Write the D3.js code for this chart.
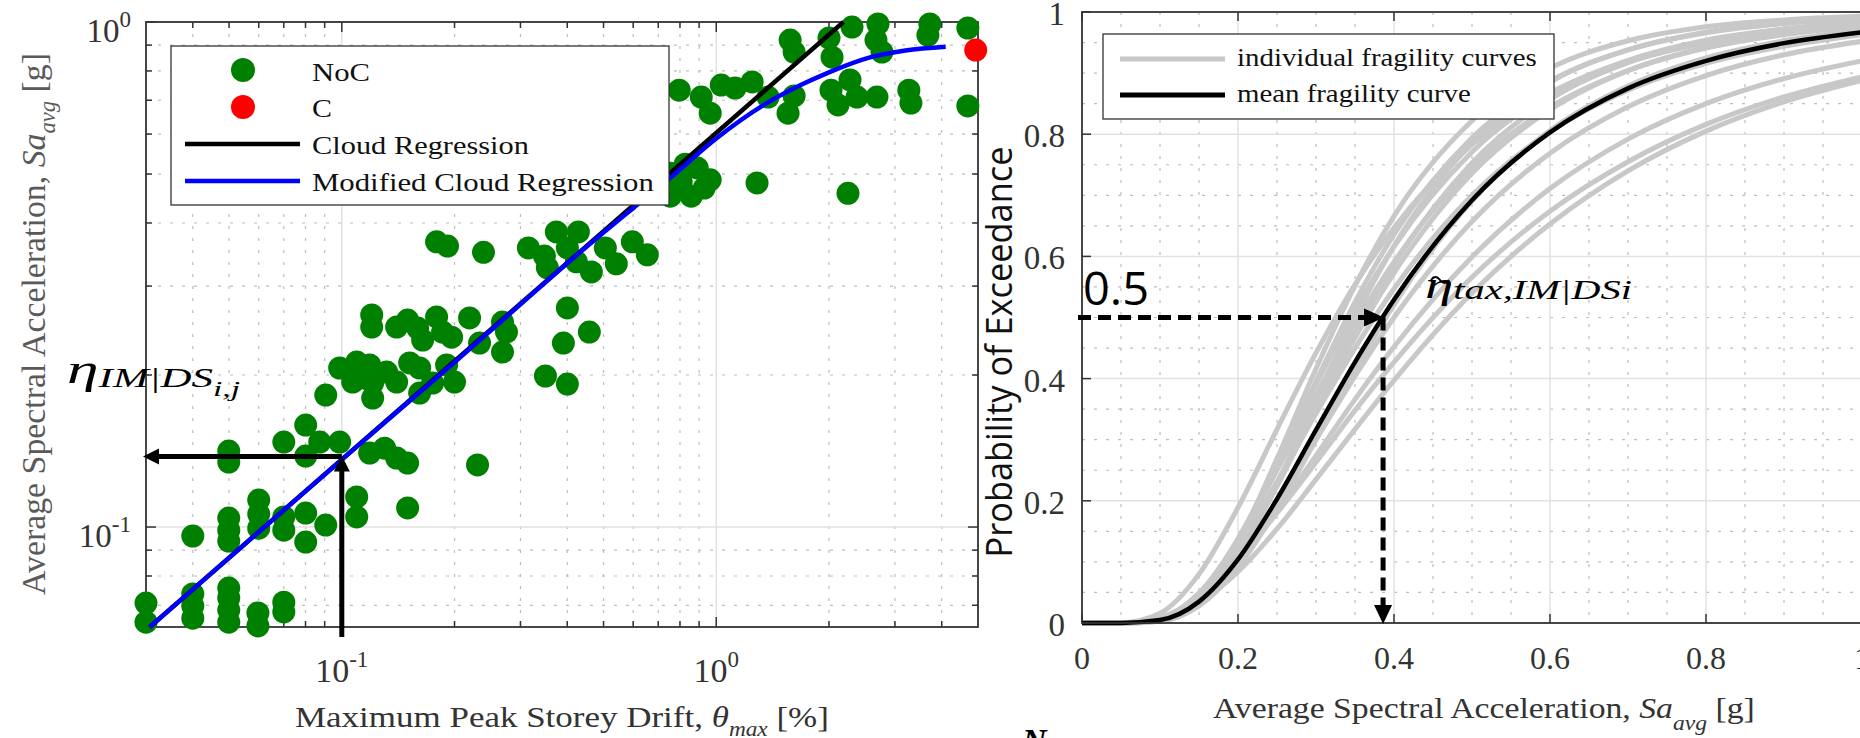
<!DOCTYPE html>
<html>
<head>
<meta charset="utf-8">
<script src="https://cdn.jsdelivr.net/npm/d3@7"></script>
<style>
  html, body { margin: 0; padding: 0; background: #fff; }
  svg { display: block; }
</style>
</head>
<body>
<svg id="fig" width="1860" height="738"></svg>
<script>
// ---------- Left panel: cloud analysis (drift vs. Sa_avg) ----------
// Non-collapse records: peak storey drift [%] and Sa_avg [g]
const noCDrift = [
  0.0300,0.0300,0.0400,0.0400,0.0400,0.0499,0.0499,0.0499,0.0499,0.0597,0.0597,0.0700,0.0700,
  0.0400,0.0499,0.0499,0.0499,0.0600,0.0600,0.0600,0.0700,0.0700,0.0801,0.0801,0.0906,0.1096,0.1096,0.1499,
  0.0499,0.0499,0.0700,0.0801,0.0801,0.0873,0.0987,0.1187,0.1301,0.1401,0.1499,0.2304,
  0.0906,0.0987,0.1069,0.1096,0.1116,0.1187,0.1209,0.1209,0.1318,0.1401,0.1518,0.1614,0.1614,0.1748,0.1905,0.2000,0.3498,0.4003,
  0.1202,0.1202,0.1401,0.1499,0.1594,0.1644,0.1791,0.1858,0.1964,0.2194,0.2333,0.2686,0.2753,0.2686,0.3906,0.4003,0.4582,
  0.1791,0.1916,0.2390,0.3150,0.3476,0.3540,0.3741,0.4003,0.4283,0.4231,0.4639,0.5056,0.5409,0.5968,0.6544,
  0.7535,0.7535,0.8261,0.8061,0.8571,0.8894,0.9286,0.9634,1.285,2.248,
  0.7963,0.9117,0.9634,1.031,1.123,1.247,1.375,1.555,1.614,2.025,2.114,2.276,2.376,2.686,3.268,3.310,4.697,
  1.575,1.614,2.000,2.038,2.304,2.703,2.770,2.670,3.719,3.674,4.697
];
const noCSa = [
  0.0707,0.0648,0.0737,0.0698,0.0660,0.0757,0.0724,0.0685,0.0648,0.0676,0.0637,0.0710,0.0679,
  0.0960,0.1042,0.0986,0.0938,0.1131,0.1061,0.0995,0.1047,0.0986,0.1066,0.0934,0.1009,0.1147,0.1047,0.1091,
  0.1414,0.1345,0.1473,0.1592,0.1382,0.1473,0.1473,0.1401,0.1433,0.1370,0.1339,0.1327,
  0.1825,0.2065,0.1937,0.2122,0.1972,0.2094,0.1928,0.1800,0.2027,0.1937,0.2113,0.2065,0.1842,0.1928,0.2094,0.1937,0.1991,0.1919,
  0.2630,0.2489,0.2489,0.2570,0.2477,0.2345,0.2606,0.2432,0.2377,0.2594,0.2313,0.2546,0.2432,0.2221,0.2313,0.2715,0.2432,
  0.367,0.360,0.350,0.357,0.344,0.326,0.384,0.357,0.384,0.335,0.320,0.357,0.332,0.367,0.346,
  0.502,0.452,0.523,0.482,0.452,0.514,0.469,0.487,0.480,0.458,
  0.733,0.710,0.660,0.750,0.740,0.761,0.710,0.660,0.714,0.733,0.685,0.768,0.710,0.710,0.733,0.691,0.682,
  0.921,0.872,0.930,0.852,0.977,0.991,0.872,0.921,0.991,0.942,0.973
];
// Collapse record
const cDrift = [4.93];
const cSa = [0.880];

// Linear (log-log) cloud regression end points
const cloudDrift = [0.0307, 2.186];
const cloudSa = [0.0634, 1.0];

// Modified cloud regression
const modDrift = [0.0307, 0.1, 0.2, 0.3, 0.4, 0.5, 0.6, 0.75, 1.0, 1.33, 1.68, 2.0, 2.56, 3.2, 4.1];
const modSa    = [0.0634, 0.136, 0.212, 0.276, 0.333, 0.383, 0.428, 0.49, 0.588, 0.683, 0.75, 0.795, 0.85, 0.878, 0.893];

// Log axis ticks
const driftMajor = [0.1, 1];
const driftMajorLabels = ["-1", "0"];
const driftMinor = [0.04,0.05,0.06,0.07,0.08,0.09,0.2,0.3,0.4,0.5,0.6,0.7,0.8,0.9,2,3,4];
const saMajor = [0.1, 1];
const saMajorLabels = ["-1", "0"];
const saMinor = [0.07,0.08,0.09,0.2,0.3,0.4,0.5,0.6,0.7,0.8,0.9];

// Median read-off on the cloud regression
const etaDrift = 0.1;
const etaSa = 0.138;

// ---------- Right panel: fragility curves ----------
const saGrid = [0, 0.05, 0.1, 0.15, 0.2, 0.25, 0.3, 0.35, 0.4, 0.5, 0.6, 0.7, 0.8, 0.9, 1.0];
const individualPoE = [
  [0,0,0.004,0.040,0.133,0.269,0.416,0.552,0.666,0.822,0.908,0.953,0.976,0.987,0.993],
  [0,0,0.005,0.041,0.130,0.257,0.395,0.525,0.636,0.794,0.887,0.938,0.966,0.981,0.989],
  [0,0.0001,0.007,0.048,0.138,0.260,0.390,0.511,0.616,0.771,0.866,0.921,0.954,0.972,0.983],
  [0,0,0.003,0.030,0.107,0.228,0.366,0.500,0.617,0.786,0.885,0.938,0.967,0.982,0.990],
  [0,0.0001,0.007,0.049,0.135,0.250,0.373,0.489,0.591,0.745,0.844,0.904,0.941,0.963,0.977],
  [0,0,0.004,0.034,0.111,0.224,0.352,0.477,0.587,0.753,0.857,0.917,0.952,0.972,0.983],
  [0,0.0003,0.016,0.080,0.189,0.317,0.442,0.554,0.647,0.783,0.868,0.918,0.949,0.968,0.980],
  [0,0,0.005,0.038,0.115,0.225,0.348,0.467,0.573,0.736,0.840,0.904,0.942,0.965,0.978],
  [0,0.0001,0.008,0.048,0.127,0.231,0.343,0.450,0.547,0.700,0.804,0.872,0.916,0.944,0.963],
  [0,0,0.003,0.028,0.091,0.187,0.300,0.414,0.521,0.691,0.806,0.879,0.925,0.953,0.970],
  [0,0.0001,0.006,0.037,0.104,0.196,0.300,0.404,0.500,0.657,0.769,0.845,0.896,0.930,0.952],
  [0,0.0002,0.0075,0.040,0.101,0.183,0.274,0.366,0.452,0.599,0.711,0.792,0.850,0.891,0.920],
  [0,0.0003,0.009,0.043,0.103,0.180,0.263,0.348,0.427,0.566,0.674,0.755,0.816,0.861,0.894],
  [0,0.0002,0.006,0.033,0.084,0.154,0.235,0.317,0.397,0.540,0.653,0.740,0.805,0.853,0.888]
];
const meanPoE = [0,0.00004,0.0048,0.035,0.104,0.203,0.316,0.427,0.529,0.692,0.803,0.875,0.920,0.949,0.967];

const saTicks = [0, 0.2, 0.4, 0.6, 0.8, 1];
const saTickLabels = ["0", "0.2", "0.4", "0.6", "0.8", "1"];
const poeTicks = [0, 0.2, 0.4, 0.6, 0.8, 1];
const poeTickLabels = ["0", "0.2", "0.4", "0.6", "0.8", "1"];
const minorStep = [0.05,0.1,0.15,0.25,0.3,0.35,0.45,0.5,0.55,0.65,0.7,0.75,0.85,0.9,0.95];

const medianLevel = 0.5;
const medianSa = 0.386;

// ---------- drawing ----------
const SERIF = '"Liberation Serif","Times New Roman",serif';
const SANS = '"Open Sans","Liberation Sans",sans-serif';
const svg = d3.select("#fig");

// text helper: builds a text, then stretches it along its run to a given width
function fitted(parent, x, y, width, anchor, rot, build, sy) {
  const g = parent.append("g");
  const t = g.append("text").attr("text-anchor", anchor);
  build(t);
  const w = t.node().getComputedTextLength();
  const sx = width ? width / w : 1;
  g.attr("transform", `translate(${x},${y}) rotate(${rot}) scale(${sx},${sy || 1})`);
  return t;
}

// ===== Left panel =====
const xL = d3.scaleLog().domain([0.03, 5]).range([146, 978]);
const yL = d3.scaleLog().domain([0.0634, 1]).range([627, 22]);
const L = { x0: 146, x1: 978, y0: 22, y1: 627 };

const gl = svg.append("g");
// grid
gl.selectAll(".vmin").data(driftMinor).join("line")
  .attr("x1", d => xL(d)).attr("x2", d => xL(d)).attr("y1", L.y0).attr("y2", L.y1)
  .attr("stroke", "#bdbdbd").attr("stroke-width", 1.2).attr("stroke-dasharray", "3,9");
gl.selectAll(".hmin").data(saMinor).join("line")
  .attr("y1", d => yL(d)).attr("y2", d => yL(d)).attr("x1", L.x0).attr("x2", L.x1)
  .attr("stroke", "#bdbdbd").attr("stroke-width", 1.2).attr("stroke-dasharray", "3,9");
gl.selectAll(".vmaj").data(driftMajor).join("line")
  .attr("x1", d => xL(d)).attr("x2", d => xL(d)).attr("y1", L.y0).attr("y2", L.y1)
  .attr("stroke", "#e2e2e2").attr("stroke-width", 1.5);
gl.selectAll(".hmaj").data(saMajor).join("line")
  .attr("y1", d => yL(d)).attr("y2", d => yL(d)).attr("x1", L.x0).attr("x2", L.x1)
  .attr("stroke", "#e2e2e2").attr("stroke-width", 1.5);

// box and ticks
gl.append("rect").attr("x", L.x0).attr("y", L.y0).attr("width", L.x1 - L.x0).attr("height", L.y1 - L.y0)
  .attr("fill", "none").attr("stroke", "#333").attr("stroke-width", 1.8);
function xTicksL(vals, len) {
  vals.forEach(v => {
    gl.append("line").attr("x1", xL(v)).attr("x2", xL(v)).attr("y1", L.y1).attr("y2", L.y1 - len).attr("stroke", "#333").attr("stroke-width", 1.5);
    gl.append("line").attr("x1", xL(v)).attr("x2", xL(v)).attr("y1", L.y0).attr("y2", L.y0 + len).attr("stroke", "#333").attr("stroke-width", 1.5);
  });
}
function yTicksL(vals, len) {
  vals.forEach(v => {
    gl.append("line").attr("y1", yL(v)).attr("y2", yL(v)).attr("x1", L.x0).attr("x2", L.x0 + len).attr("stroke", "#333").attr("stroke-width", 1.5);
    gl.append("line").attr("y1", yL(v)).attr("y2", yL(v)).attr("x1", L.x1).attr("x2", L.x1 - len).attr("stroke", "#333").attr("stroke-width", 1.5);
  });
}
xTicksL(driftMinor, 6); xTicksL(driftMajor, 10);
yTicksL(saMinor, 6); yTicksL(saMajor, 10);

// scatter
const noC = noCDrift.map((d, i) => [d, noCSa[i]]);
gl.selectAll(".noc").data(noC).join("circle")
  .attr("cx", d => xL(d[0])).attr("cy", d => yL(d[1])).attr("r", 11.5).attr("fill", "#008000");
gl.selectAll(".col").data(cDrift.map((d, i) => [d, cSa[i]])).join("circle")
  .attr("cx", d => xL(d[0])).attr("cy", d => yL(d[1])).attr("r", 11.5).attr("fill", "#ff0000");

// regression lines
const lineL = d3.line().x(d => xL(d[0])).y(d => yL(d[1]));
gl.append("path").datum(cloudDrift.map((d, i) => [d, cloudSa[i]])).attr("d", lineL)
  .attr("fill", "none").attr("stroke", "#000").attr("stroke-width", 4.5);
gl.append("path").datum(modDrift.map((d, i) => [d, modSa[i]])).attr("d", lineL.curve(d3.curveMonotoneX))
  .attr("fill", "none").attr("stroke", "#0000ff").attr("stroke-width", 4.5);

// tick labels
driftMajor.forEach((v, i) => {
  const t = gl.append("text").attr("x", xL(v)).attr("y", 682).attr("text-anchor", "middle")
    .attr("font-family", SERIF).attr("font-size", 34).attr("fill", "#333");
  t.append("tspan").text("10");
  t.append("tspan").attr("dy", -15).attr("font-size", 23).text(driftMajorLabels[i]);
});
saMajor.forEach((v, i) => {
  const t = gl.append("text").attr("x", 131).attr("y", yL(v) + 20).attr("text-anchor", "end")
    .attr("font-family", SERIF).attr("font-size", 33).attr("fill", "#333");
  t.append("tspan").text("10");
  t.append("tspan").attr("dy", -15).attr("font-size", 23).text(saMajorLabels[i]);
});

// axis titles
fitted(gl, 295, 727, 534, "start", 0, t => {
  t.attr("font-family", SERIF).attr("font-size", 30).attr("fill", "#333");
  t.append("tspan").text("Maximum Peak Storey Drift, ");
  t.append("tspan").attr("font-style", "italic").text("θ");
  t.append("tspan").attr("font-style", "italic").attr("font-size", 20).attr("dy", 9).text("max");
  t.append("tspan").attr("dy", -9).text(" [%]");
});
fitted(gl, 45, 324, 542, "middle", -90, t => {
  t.attr("font-family", SERIF).attr("font-size", 30).attr("fill", "#5a5a5a");
  t.append("tspan").text("Average Spectral Acceleration, ");
  t.append("tspan").attr("font-style", "italic").text("Sa");
  t.append("tspan").attr("font-style", "italic").attr("font-size", 20).attr("dy", 9).text("avg");
  t.append("tspan").attr("dy", -9).text(" [g]");
}, 1.15);

// legend
const lg = svg.append("g");
lg.append("rect").attr("x", 171).attr("y", 46).attr("width", 498).attr("height", 159)
  .attr("fill", "#fff").attr("stroke", "#333").attr("stroke-width", 1.3);
lg.append("circle").attr("cx", 243).attr("cy", 70).attr("r", 12).attr("fill", "#008000");
lg.append("circle").attr("cx", 243).attr("cy", 107).attr("r", 12).attr("fill", "#ff0000");
lg.append("line").attr("x1", 185).attr("x2", 300).attr("y1", 144).attr("y2", 144).attr("stroke", "#000").attr("stroke-width", 4.5);
lg.append("line").attr("x1", 185).attr("x2", 300).attr("y1", 181).attr("y2", 181).attr("stroke", "#0000ff").attr("stroke-width", 4.5);
[["NoC", 81, 58], ["C", 117, 20], ["Cloud Regression", 154, 217], ["Modified Cloud Regression", 191, 342]].forEach(([s, y, w]) => {
  fitted(lg, 312, y, w, "start", 0, t => t.attr("font-family", SERIF).attr("font-size", 25.5).attr("fill", "#111").text(s));
});

// median arrows
const ax = svg.append("g");
const ex = xL(etaDrift), ey = yL(etaSa);
ax.append("line").attr("x1", ex).attr("x2", ex).attr("y1", 637).attr("y2", ey + 14).attr("stroke", "#000").attr("stroke-width", 5);
ax.append("path").attr("d", `M${ex},${ey - 1} L${ex - 8},${ey + 15} L${ex + 8},${ey + 15} Z`).attr("fill", "#000");
ax.append("line").attr("x1", ex).attr("x2", L.x0 + 12).attr("y1", ey).attr("y2", ey).attr("stroke", "#000").attr("stroke-width", 5);
ax.append("path").attr("d", `M${L.x0 - 3},${ey} L${L.x0 + 13},${ey - 8} L${L.x0 + 13},${ey + 8} Z`).attr("fill", "#000");
fitted(ax, 67, 383, 173, "start", 0, t => {
  t.attr("font-family", SERIF).attr("font-style", "italic").attr("fill", "#000");
  t.append("tspan").attr("font-size", 40).text("η");
  t.append("tspan").attr("font-size", 27).attr("dy", 4).text("IM|DS");
  t.append("tspan").attr("font-size", 21).attr("dy", 9).text("i,j");
});

// ===== Right panel =====
const xR = d3.scaleLinear().domain([0, 1]).range([1082, 1862]);
const yR = d3.scaleLinear().domain([0, 1]).range([623, 12]);
const R = { x0: 1082, x1: 1862, y0: 12, y1: 623 };
const gr = svg.append("g");

gr.selectAll(".rvmin").data(minorStep).join("line")
  .attr("x1", d => xR(d)).attr("x2", d => xR(d)).attr("y1", R.y0).attr("y2", R.y1)
  .attr("stroke", "#bdbdbd").attr("stroke-width", 1.2).attr("stroke-dasharray", "3,9");
gr.selectAll(".rhmin").data(minorStep).join("line")
  .attr("y1", d => yR(d)).attr("y2", d => yR(d)).attr("x1", R.x0).attr("x2", R.x1)
  .attr("stroke", "#bdbdbd").attr("stroke-width", 1.2).attr("stroke-dasharray", "3,9");
gr.selectAll(".rvmaj").data(saTicks.slice(1, -1)).join("line")
  .attr("x1", d => xR(d)).attr("x2", d => xR(d)).attr("y1", R.y0).attr("y2", R.y1)
  .attr("stroke", "#e2e2e2").attr("stroke-width", 1.5);
gr.selectAll(".rhmaj").data(poeTicks.slice(1, -1)).join("line")
  .attr("y1", d => yR(d)).attr("y2", d => yR(d)).attr("x1", R.x0).attr("x2", R.x1)
  .attr("stroke", "#e2e2e2").attr("stroke-width", 1.5);

// fragility curves
const lineR = d3.line().x((d, i) => xR(saGrid[i])).y(d => yR(d)).curve(d3.curveMonotoneX);
gr.selectAll(".ind").data(individualPoE).join("path").attr("d", lineR)
  .attr("fill", "none").attr("stroke", "#c8c8c8").attr("stroke-width", 5);
gr.append("path").datum(meanPoE).attr("d", lineR)
  .attr("fill", "none").attr("stroke", "#000").attr("stroke-width", 4.5);

// box and ticks
gr.append("rect").attr("x", R.x0).attr("y", R.y0).attr("width", R.x1 - R.x0).attr("height", R.y1 - R.y0)
  .attr("fill", "none").attr("stroke", "#333").attr("stroke-width", 1.8);
saTicks.forEach(v => {
  gr.append("line").attr("x1", xR(v)).attr("x2", xR(v)).attr("y1", R.y1).attr("y2", R.y1 - 9).attr("stroke", "#333").attr("stroke-width", 1.5);
  gr.append("line").attr("x1", xR(v)).attr("x2", xR(v)).attr("y1", R.y0).attr("y2", R.y0 + 9).attr("stroke", "#333").attr("stroke-width", 1.5);
});
poeTicks.forEach(v => {
  gr.append("line").attr("y1", yR(v)).attr("y2", yR(v)).attr("x1", R.x0).attr("x2", R.x0 + 9).attr("stroke", "#333").attr("stroke-width", 1.5);
});
saTicks.forEach((v, i) => {
  gr.append("text").attr("x", xR(v)).attr("y", 669).attr("text-anchor", "middle")
    .attr("font-family", SERIF).attr("font-size", 32).attr("fill", "#333").text(saTickLabels[i]);
});
poeTicks.forEach((v, i) => {
  gr.append("text").attr("x", 1065).attr("y", yR(v) + 13).attr("text-anchor", "end")
    .attr("font-family", SERIF).attr("font-size", 33).attr("fill", "#333").text(poeTickLabels[i]);
});

fitted(gr, 1213, 718, 542, "start", 0, t => {
  t.attr("font-family", SERIF).attr("font-size", 30).attr("fill", "#333");
  t.append("tspan").text("Average Spectral Acceleration, ");
  t.append("tspan").attr("font-style", "italic").text("Sa");
  t.append("tspan").attr("font-style", "italic").attr("font-size", 21).attr("dy", 12).text("avg");
  t.append("tspan").attr("dy", -12).text(" [g]");
});
fitted(gr, 1012, 352, 411, "middle", -90, t => {
  t.attr("font-family", SANS).attr("font-size", 32).attr("fill", "#111").text("Probability of Exceedance");
}, 1.15);

// legend
const lr = svg.append("g");
lr.append("rect").attr("x", 1103).attr("y", 34).attr("width", 451).attr("height", 85)
  .attr("fill", "#fff").attr("stroke", "#333").attr("stroke-width", 1.3);
lr.append("line").attr("x1", 1120).attr("x2", 1225).attr("y1", 59).attr("y2", 59).attr("stroke", "#c8c8c8").attr("stroke-width", 5);
lr.append("line").attr("x1", 1120).attr("x2", 1225).attr("y1", 95).attr("y2", 95).attr("stroke", "#000").attr("stroke-width", 5);
fitted(lr, 1237, 66, 300, "start", 0, t => t.attr("font-family", SERIF).attr("font-size", 24.5).attr("fill", "#111").text("individual fragility curves"));
fitted(lr, 1237, 102, 234, "start", 0, t => t.attr("font-family", SERIF).attr("font-size", 24.5).attr("fill", "#111").text("mean fragility curve"));

// median dashed arrows
const ar = svg.append("g");
const mx = xR(medianSa), my = yR(medianLevel);
ar.append("line").attr("x1", 1078).attr("x2", mx - 18).attr("y1", my).attr("y2", my)
  .attr("stroke", "#000").attr("stroke-width", 5).attr("stroke-dasharray", "13,7");
ar.append("path").attr("d", `M${mx + 1},${my} L${mx - 19},${my - 9} L${mx - 19},${my + 9} Z`).attr("fill", "#000");
ar.append("line").attr("x1", mx).attr("x2", mx).attr("y1", my).attr("y2", R.y1 - 16)
  .attr("stroke", "#000").attr("stroke-width", 5).attr("stroke-dasharray", "13,7");
ar.append("path").attr("d", `M${mx},${R.y1 + 1} L${mx - 9},${R.y1 - 18} L${mx + 9},${R.y1 - 18} Z`).attr("fill", "#000");
fitted(ar, 1083, 305, 66, "start", 0, t => t.attr("font-family", SANS).attr("font-size", 46).attr("fill", "#000").text("0.5"));

// median label: eta with a drawn tilde over it, then the subscript
fitted(ar, 1425, 298, 207, "start", 0, t => {
  t.attr("font-family", SERIF).attr("font-style", "italic").attr("fill", "#000");
  t.append("tspan").attr("font-size", 38).text("η");
  t.append("tspan").attr("font-size", 27).attr("dy", 1).text("tax,IM|DSi");
});
ar.append("path").attr("d", "M1431,280 q4.5,-6 9,0 t9,0")
  .attr("fill", "none").attr("stroke", "#000").attr("stroke-width", 2);

svg.append("text").attr("x", 1022).attr("y", 752).attr("font-family", SERIF).attr("font-style", "italic")
  .attr("font-weight", "bold").attr("font-size", 34).attr("fill", "#000").text("N");
</script>
</body>
</html>
